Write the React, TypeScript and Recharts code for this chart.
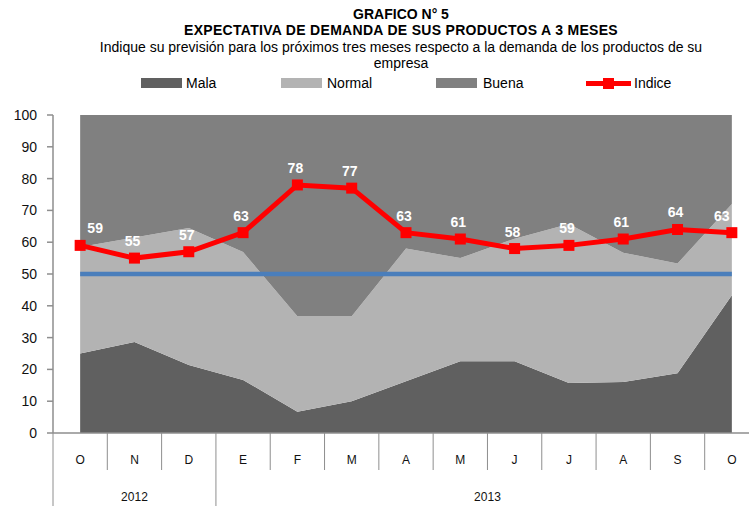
import React from 'react';
import { ComposedChart, Area, Line, XAxis, YAxis } from 'recharts';

const months = ['O', 'N', 'D', 'E', 'F', 'M', 'A', 'M', 'J', 'J', 'A', 'S', 'O'];
const yearLabels = ['2012', '2013'];
const mala = [25, 28.6, 21.4, 16.7, 6.7, 10, 16.3, 22.6, 22.6, 15.7, 16, 18.8, 43.3];
const normal = [33.5, 32.9, 43.1, 40.2, 30, 26.7, 41.7, 32.4, 38.5, 50, 40.7, 34.5, 28.7];
const buena = [41.5, 38.5, 35.5, 43.1, 63.3, 63.3, 42, 45, 38.9, 34.3, 43.3, 46.7, 28];
const indice = [59, 55, 57, 63, 78, 77, 63, 61, 58, 59, 61, 64, 63];
const umbral = [50, 50, 50, 50, 50, 50, 50, 50, 50, 50, 50, 50, 50];
const yTicks = [0, 10, 20, 30, 40, 50, 60, 70, 80, 90, 100];

const data = months.map((m, i) => ({
  idx: i,
  month: m,
  mala: mala[i],
  normal: normal[i],
  buena: buena[i],
  indice: indice[i],
  umbral: umbral[i],
}));

const FONT = '"Liberation Sans", Arial, sans-serif';
const AXIS_GRAY = '#8e8e8e';

const MonthTick = (props: any) => {
  const { x, y, payload, index } = props;
  const i = typeof index === 'number' ? index : payload.index;
  const half = payload && payload.offset ? payload.offset : 27.15;
  const left = x - half;
  const isYearStart = i === 0 || i === 3;
  return (
    <g>
      <line x1={left} y1={y} x2={left} y2={isYearStart ? y + 80 : y + 37} stroke={AXIS_GRAY} strokeWidth={1} />
      <text x={x} y={y + 31} textAnchor="middle" fontSize={12} fontFamily={FONT} fill="#111">
        {months[i]}
      </text>
      {i === 1 && (
        <text x={x} y={y + 68} textAnchor="middle" fontSize={12} fontFamily={FONT} fill="#111">
          {yearLabels[0]}
        </text>
      )}
      {i === 7 && (
        <text x={x + half} y={y + 68} textAnchor="middle" fontSize={12} fontFamily={FONT} fill="#111">
          {yearLabels[1]}
        </text>
      )}
    </g>
  );
};

const IndiceLabel = (props: any) => {
  const { x, y, index, value } = props;
  let dx = -2;
  if (index === 0) dx = 15;
  if (index === months.length - 1) dx = -10;
  return (
    <text
      x={x + dx}
      y={y - 12}
      textAnchor="middle"
      fontSize={14}
      fontWeight="bold"
      fontFamily={FONT}
      fill="#ffffff"
    >
      {value}
    </text>
  );
};

const SquareDot = (props: any) => {
  const { cx, cy, index } = props;
  if (cx == null || cy == null) return <g key={index} />;
  return <rect key={index} x={cx - 5.5} y={cy - 5.5} width={11} height={11} fill="#ff0000" />;
};

const textLine = (text: string, top: number, size: number, bold: boolean, spacing = 0) => (
  <div
    style={{
      position: 'absolute',
      left: 0,
      width: 802,
      top: top - 9,
      height: 18,
      lineHeight: '18px',
      textAlign: 'center',
      fontSize: size,
      fontWeight: bold ? 'bold' : 'normal',
      fontFamily: FONT,
      color: '#000',
      whiteSpace: 'nowrap',
      letterSpacing: spacing,
    }}
  >
    {text}
  </div>
);

const LegendItem = ({ left, color, label, textLeft }: any) => (
  <>
    <div style={{ position: 'absolute', left, top: 78, width: 41, height: 10, background: color }} />
    <div
      style={{
        position: 'absolute',
        left: textLeft,
        top: 74,
        height: 18,
        lineHeight: '18px',
        fontSize: 14,
        fontFamily: FONT,
        color: '#000',
      }}
    >
      {label}
    </div>
  </>
);

export default function App() {
  return (
    <div
      style={{
        position: 'absolute',
        left: 0,
        top: 0,
        width: 749,
        height: 506,
        overflow: 'hidden',
        background: '#fff',
      }}
    >
      {textLine('GRAFICO N° 5', 14, 14, true)}
      {textLine('EXPECTATIVA DE DEMANDA DE SUS PRODUCTOS A 3 MESES', 30, 14, true, 0.3)}
      {textLine(
        'Indique su previsión para los próximos tres meses respecto a la demanda de los productos de su',
        47,
        14,
        false
      )}
      {textLine('empresa', 63, 14, false)}

      <LegendItem left={141} color="#606060" label="Mala" textLeft={186} />
      <LegendItem left={281} color="#b3b3b3" label="Normal" textLeft={327} />
      <LegendItem left={436} color="#808080" label="Buena" textLeft={483} />
      <div style={{ position: 'absolute', left: 586, top: 81, width: 45, height: 5, background: '#ff0000' }} />
      <div style={{ position: 'absolute', left: 603, top: 78, width: 11, height: 11, background: '#ff0000' }} />
      <div
        style={{
          position: 'absolute',
          left: 634,
          top: 74,
          height: 18,
          lineHeight: '18px',
          fontSize: 14,
          fontFamily: FONT,
          color: '#000',
        }}
      >
        Indice
      </div>

      <div style={{ position: 'absolute', left: 0, top: 0 }}>
        <ComposedChart
          width={760}
          height={506}
          data={data}
          margin={{ top: 115, right: 1, bottom: 0, left: 0 }}
        >
          <XAxis
            dataKey="idx"
            type="category"
            scale="band"
            height={73}
            interval={0}
            tickLine={false}
            tickSize={0}
            tickMargin={0}
            axisLine={{ stroke: AXIS_GRAY, strokeWidth: 1.5 }}
            tick={<MonthTick />}
          />
          <YAxis
            domain={[0, 100]}
            ticks={yTicks}
            width={53}
            tickSize={6}
            tickMargin={10}
            axisLine={{ stroke: AXIS_GRAY, strokeWidth: 1.5 }}
            tickLine={{ stroke: AXIS_GRAY, strokeWidth: 1.5 }}
            tick={{ fontSize: 14, fontFamily: FONT, fill: '#111' }}
            interval={0}
          />
          <Area
            dataKey="mala"
            stackId="s"
            type="linear"
            fill="#606060"
            fillOpacity={1}
            stroke="none"
            isAnimationActive={false}
            activeDot={false}
          />
          <Area
            dataKey="normal"
            stackId="s"
            type="linear"
            fill="#b3b3b3"
            fillOpacity={1}
            stroke="none"
            isAnimationActive={false}
            activeDot={false}
          />
          <Area
            dataKey="buena"
            stackId="s"
            type="linear"
            fill="#808080"
            fillOpacity={1}
            stroke="none"
            isAnimationActive={false}
            activeDot={false}
          />
          <Line
            dataKey="umbral"
            type="linear"
            stroke="#4a7ebb"
            strokeWidth={4.5}
            dot={false}
            activeDot={false}
            isAnimationActive={false}
          />
          <Line
            dataKey="indice"
            type="linear"
            stroke="#ff0000"
            strokeWidth={5}
            dot={<SquareDot />}
            activeDot={false}
            label={<IndiceLabel />}
            isAnimationActive={false}
          />
        </ComposedChart>
      </div>
    </div>
  );
}
